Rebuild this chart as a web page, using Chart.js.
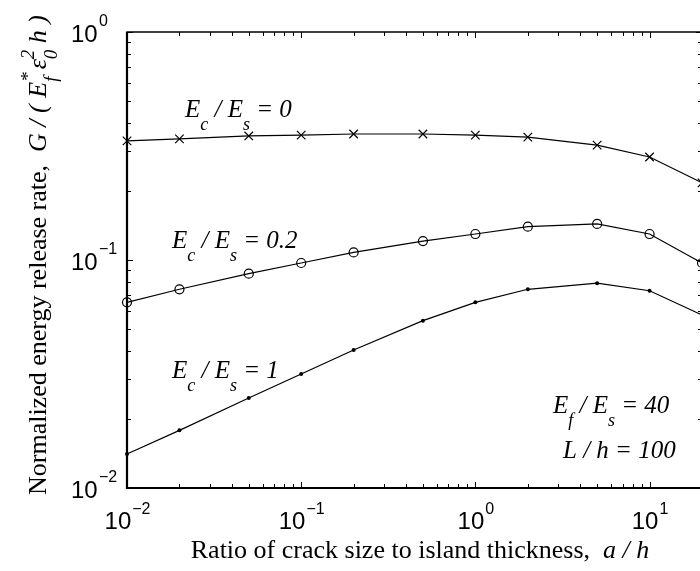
<!DOCTYPE html>
<html>
<head>
<meta charset="utf-8">
<script src="https://cdn.jsdelivr.net/npm/chart.js@4.4.1/dist/chart.umd.min.js"></script>
<style>
  html, body { margin: 0; padding: 0; background: #fff; overflow: hidden; }
  #wrap { width: 720px; height: 571px; }
</style>
</head>
<body>
<div id="wrap"><canvas id="myChart" width="720" height="571"></canvas></div>
<script>
// =======================
// Data
// =======================
const xValues = [0.01, 0.02, 0.05, 0.1, 0.2, 0.5, 1, 2, 5, 10, 20];
const gEc0 = [0.333, 0.340, 0.350, 0.353, 0.357, 0.357, 0.353, 0.346, 0.319, 0.283, 0.218];
const gEc02 = [0.0652, 0.0744, 0.0871, 0.097, 0.108, 0.121, 0.130, 0.140, 0.144, 0.130, 0.097];
const gEc1 = [0.0141, 0.0179, 0.0248, 0.0316, 0.0403, 0.0542, 0.0652, 0.0744, 0.0791, 0.0733, 0.0574];

const xTickExponents = [-2, -1, 0, 1];
const yTickExponents = [-2, -1, 0];
const xMin = 0.01, xMax = 20;
const yMin = 0.01, yMax = 1;

const serif = '"Liberation Serif", "Times New Roman", serif';
const sans = '"Liberation Sans", Arial, sans-serif';

const toPoints = ys => xValues.map((x, i) => ({ x: x, y: ys[i] }));

// rich text: parts are [text, kind]; kind r = roman, i = italic, sub, sup, subsup ([sub, sup])
function drawRich(ctx, x, y, parts, size, measureOnly) {
  let cx = x;
  const small = Math.round(size * 0.72);
  for (const [t, kind] of parts) {
    if (kind === 'r' || kind === 'i') {
      ctx.font = (kind === 'i' ? 'italic ' : '') + size + 'px ' + serif;
      if (!measureOnly) ctx.fillText(t, cx, y);
      cx += ctx.measureText(t).width;
    } else if (kind === 'sub' || kind === 'sup') {
      ctx.font = 'italic ' + small + 'px ' + serif;
      const dy = kind === 'sub' ? size * 0.52 : -size * 0.45;
      if (!measureOnly) ctx.fillText(t, cx, y + dy);
      cx += ctx.measureText(t).width;
    } else if (kind === 'subsup') {
      ctx.font = 'italic ' + small + 'px ' + serif;
      if (!measureOnly) {
        ctx.fillText(t[0], cx, y + size * 0.42);
        ctx.fillText(t[1], cx, y - size * 0.45);
      }
      cx += Math.max(ctx.measureText(t[0]).width, ctx.measureText(t[1]).width);
    } else if (kind === 'gap') {
      cx += t;
    }
  }
  return cx - x;
}

// =======================
// Axes, ticks, labels plugin
// =======================
const frameAndText = {
  id: 'frameAndText',
  afterDraw(chart) {
    const ctx = chart.ctx;
    const xs = chart.scales.x, ys = chart.scales.y;
    const L = xs.getPixelForValue(xMin), R = xs.getPixelForValue(xMax);
    const T = ys.getPixelForValue(yMax), B = ys.getPixelForValue(yMin);
    ctx.save();
    ctx.strokeStyle = '#000';
    ctx.fillStyle = '#000';

    // box
    ctx.lineWidth = 1.5;
    ctx.strokeRect(L, T, R - L, B - T);
    ctx.lineWidth = 2.2;
    ctx.beginPath();
    ctx.moveTo(L, T); ctx.lineTo(L, B); ctx.lineTo(R, B);
    ctx.stroke();

    // ticks (inward, both sides)
    ctx.lineWidth = 1;
    ctx.beginPath();
    for (let k = -2; k <= 1; k++) {
      for (let m = 1; m <= 9; m++) {
        const v = m * Math.pow(10, k);
        if (v < xMin - 1e-9 || v > xMax + 1e-9) continue;
        const px = Math.round(xs.getPixelForValue(v)) + 0.5;
        const len = m === 1 ? 6 : 4;
        ctx.moveTo(px, B); ctx.lineTo(px, B - len);
        ctx.moveTo(px, T); ctx.lineTo(px, T + len);
      }
    }
    for (let k = -2; k <= 0; k++) {
      for (let m = 1; m <= 9; m++) {
        const v = m * Math.pow(10, k);
        if (v < yMin - 1e-9 || v > yMax + 1e-9) continue;
        const py = Math.round(ys.getPixelForValue(v)) + 0.5;
        const len = m === 1 ? 6 : 4;
        ctx.moveTo(L, py); ctx.lineTo(L + len, py);
        ctx.moveTo(R, py); ctx.lineTo(R - len, py);
      }
    }
    ctx.stroke();

    // tick labels 10^k
    ctx.textBaseline = 'alphabetic';
    ctx.textAlign = 'left';
    const expText = e => (e < 0 ? '\u2212' + (-e) : String(e));
    xTickExponents.forEach(e => {
      const px = xs.getPixelForValue(Math.pow(10, e));
      ctx.font = '24px ' + sans;
      const w1 = ctx.measureText('10').width;
      ctx.font = '16px ' + sans;
      const w2 = ctx.measureText(expText(e)).width;
      const x0 = px - (w1 + w2) / 2;
      ctx.font = '24px ' + sans;
      ctx.fillText('10', x0, 529);
      ctx.font = '16px ' + sans;
      ctx.fillText(expText(e), x0 + w1 + 1, 514);
    });
    yTickExponents.forEach(e => {
      const py = ys.getPixelForValue(Math.pow(10, e));
      ctx.font = '24px ' + sans;
      ctx.fillText('10', 71, py + 10);
      ctx.font = '16px ' + sans;
      ctx.fillText(expText(e), 99, py - 6);
    });

    // x title
    const xTitle = [['Ratio of crack size to island thickness,  ', 'r'], ['a', 'i'], [' / ', 'i'], ['h', 'i']];
    const xw = drawRich(ctx, 0, 0, xTitle, 26, true);
    drawRich(ctx, 420 - xw / 2, 558, xTitle, 26);

    // y title (rotated)
    const yTitle = [
      ['Normalized energy release rate,  ', 'r'],
      ['G', 'i'], [' / ( ', 'i'], ['E', 'i'], [['f', '*'], 'subsup'], [3, 'gap'],
      ['\u03b5', 'i'], [['0', '2'], 'subsup'], [' h )', 'i']
    ];
    const yw = drawRich(ctx, 0, 0, yTitle, 26, true);
    ctx.save();
    ctx.translate(46, 255);
    ctx.rotate(-Math.PI / 2);
    drawRich(ctx, -yw / 2, 0, yTitle, 26);
    ctx.restore();

    // curve annotations
    const ratioLabel = (sub1, val) => [
      ['E', 'i'], [sub1, 'sub'], [' / ', 'i'], ['E', 'i'], ['s', 'sub'], [' = ' + val, 'i']
    ];
    drawRich(ctx, 185, 117, ratioLabel('c', '0'), 25);
    drawRich(ctx, 172, 248, ratioLabel('c', '0.2'), 25);
    drawRich(ctx, 172, 378, ratioLabel('c', '1'), 25);
    drawRich(ctx, 553, 413, ratioLabel('f', '40'), 25);
    drawRich(ctx, 563, 458, [['L / h = 100', 'i']], 25);

    ctx.restore();
  }
};

// =======================
// Chart Configuration
// =======================
const ctx = document.getElementById('myChart').getContext('2d');

new Chart(ctx, {
  type: 'line',
  data: {
    datasets: [
      {
        label: 'Ec/Es = 0',
        data: toPoints(gEc0),
        borderColor: '#000',
        borderWidth: 1.2,
        pointStyle: 'crossRot',
        pointRadius: 6,
        pointBorderWidth: 1.2,
        pointBorderColor: '#000',
        tension: 0
      },
      {
        label: 'Ec/Es = 0.2',
        data: toPoints(gEc02),
        borderColor: '#000',
        borderWidth: 1.2,
        pointStyle: 'circle',
        pointRadius: 4.5,
        pointBorderWidth: 1.2,
        pointBorderColor: '#000',
        pointBackgroundColor: 'rgba(0,0,0,0)',
        tension: 0
      },
      {
        label: 'Ec/Es = 1',
        data: toPoints(gEc1),
        borderColor: '#000',
        borderWidth: 1.2,
        pointStyle: 'circle',
        pointRadius: 2,
        pointBorderWidth: 0,
        pointBackgroundColor: '#000',
        tension: 0
      }
    ]
  },
  options: {
    responsive: false,
    animation: false,
    layout: { padding: { left: 127, right: 18, top: 32, bottom: 83 } },
    plugins: {
      legend: { display: false },
      tooltip: { enabled: false }
    },
    scales: {
      x: { type: 'logarithmic', min: xMin, max: xMax, display: false },
      y: { type: 'logarithmic', min: yMin, max: yMax, display: false }
    },
    elements: { line: { fill: false } },
    clip: false
  },
  plugins: [frameAndText]
});
</script>
</body>
</html>
